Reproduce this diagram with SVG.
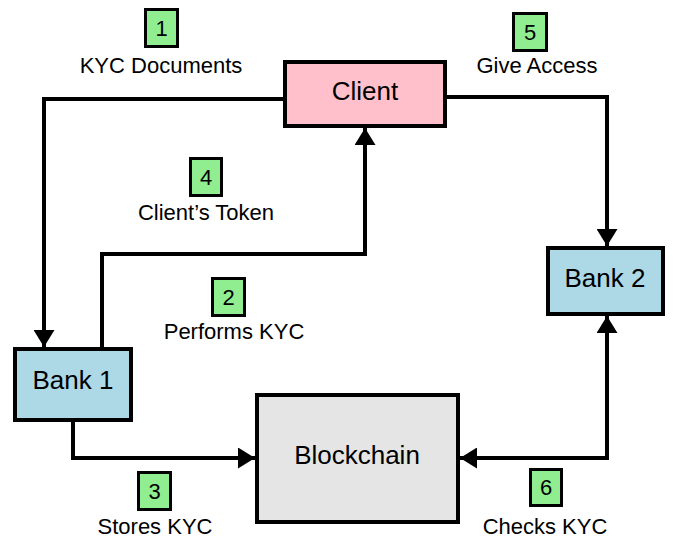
<svg xmlns="http://www.w3.org/2000/svg" width="676" height="541" viewBox="0 0 676 541">
<defs>
<style>
.node{stroke:#000;stroke-width:4}
.badge{fill:#90EE90;stroke:#000;stroke-width:3}
.nt{font-family:"Liberation Sans",Arial,sans-serif;font-size:26px;fill:#000;text-anchor:middle}
.lt{font-family:"Liberation Sans",Arial,sans-serif;font-size:22px;fill:#000;text-anchor:middle}
.conn{fill:none;stroke:#000;stroke-width:4}
</style>
<marker id="arr" markerUnits="userSpaceOnUse" markerWidth="18" markerHeight="21" refX="17" refY="10.5" orient="auto-start-reverse" viewBox="0 0 18 21">
<path d="M0,0 L17,10.5 L0,21 z" fill="#000"/>
</marker>
</defs>
<rect width="676" height="541" fill="#fff"/>
<g id="connectors">
<path class="conn" d="M283,99 H44 V347" marker-end="url(#arr)"/>
<path class="conn" d="M102,347 V254 H365 V128" marker-end="url(#arr)"/>
<path class="conn" d="M73,422 V458 H255" marker-end="url(#arr)"/>
<path class="conn" d="M447,97 H607 V246" marker-end="url(#arr)"/>
<path class="conn" d="M607,316 V458 H460" marker-start="url(#arr)" marker-end="url(#arr)"/>
</g>
<g id="client">
<rect class="node" x="285" y="62" width="160" height="64" fill="#FFC0CB"/>
<text class="nt" x="365" y="100">Client</text>
</g>
<g id="bank1">
<rect class="node" x="15" y="349" width="116" height="71" fill="#ADD8E6"/>
<text class="nt" x="73" y="389">Bank 1</text>
</g>
<g id="bank2">
<rect class="node" x="548" y="248" width="115" height="66" fill="#ADD8E6"/>
<text class="nt" x="605" y="287">Bank 2</text>
</g>
<g id="blockchain">
<rect class="node" x="257" y="395" width="201" height="127" fill="#E5E5E5"/>
<text class="nt" x="357" y="464">Blockchain</text>
</g>
<g id="step1">
<rect class="badge" x="145.5" y="9.5" width="32" height="37"/>
<text class="lt" x="161.5" y="36">1</text>
<text class="lt" x="161" y="73">KYC Documents</text>
</g>
<g id="step2">
<rect class="badge" x="212.5" y="278.5" width="32" height="37"/>
<text class="lt" x="228.5" y="305">2</text>
<text class="lt" x="234" y="339">Performs KYC</text>
</g>
<g id="step3">
<rect class="badge" x="138.5" y="472.5" width="32" height="37"/>
<text class="lt" x="154.5" y="499">3</text>
<text class="lt" x="155" y="534">Stores KYC</text>
</g>
<g id="step4">
<rect class="badge" x="190.5" y="158.5" width="31" height="37"/>
<text class="lt" x="206" y="185">4</text>
<text class="lt" x="206" y="220">Client’s Token</text>
</g>
<g id="step5">
<rect class="badge" x="513.5" y="13.5" width="33" height="37"/>
<text class="lt" x="530" y="40">5</text>
<text class="lt" x="537" y="73">Give Access</text>
</g>
<g id="step6">
<rect class="badge" x="530.5" y="469.5" width="31" height="36"/>
<text class="lt" x="546" y="495">6</text>
<text class="lt" x="545" y="534">Checks KYC</text>
</g>
</svg>
